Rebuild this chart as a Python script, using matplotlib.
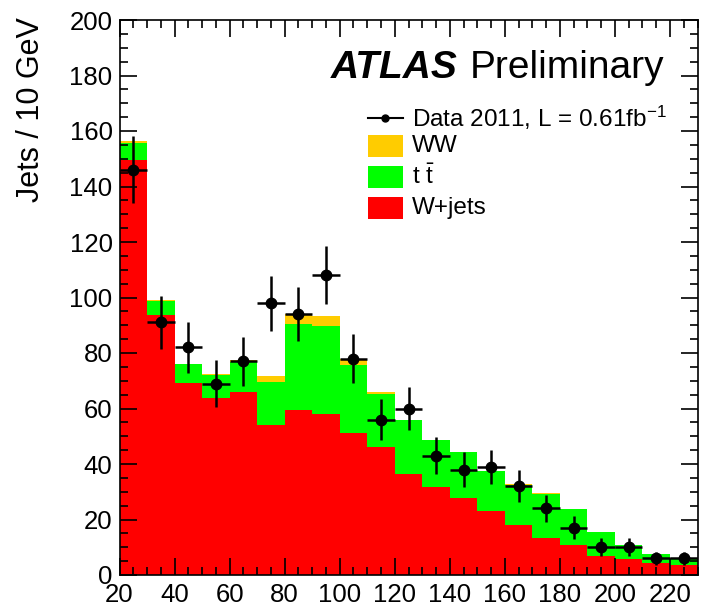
import numpy as np
import matplotlib
matplotlib.use("Agg")
import matplotlib.pyplot as plt
from matplotlib.patches import Rectangle
from matplotlib.lines import Line2D
from matplotlib.ticker import MultipleLocator

plt.rcParams['font.family'] = ['Liberation Sans', 'DejaVu Sans']
plt.rcParams['mathtext.fontset'] = 'custom'
plt.rcParams['mathtext.rm'] = 'Liberation Sans'
plt.rcParams['mathtext.it'] = 'Liberation Sans:italic'

# jet pT bins, 10 GeV wide
edges = np.arange(20, 240, 10)
centers = edges[:-1] + 5

wjets = [149.6, 93.8, 69.2, 63.7, 65.8, 54.0, 59.4, 57.9, 51.2, 46.1, 36.5,
         31.7, 27.7, 23.1, 17.9, 13.2, 10.7, 6.8, 5.9, 4.3, 3.5]
ttbar = [6.0, 4.8, 6.7, 8.2, 10.8, 15.6, 30.9, 31.7, 24.4, 19.3, 19.2,
         16.8, 16.6, 14.3, 14.7, 16.1, 13.0, 8.7, 4.8, 3.2, 2.4]
ww = [0.9, 0.4, 0.3, 0.4, 0.8, 2.0, 3.9, 3.7, 2.2, 0.7, 0.3,
      0.2, 0.2, 0.1, 0.1, 0.1, 0.1, 0.1, 0.0, 0.0, 0.0]

data = [146, 91, 82, 69, 77, 98, 94, 108, 78, 56, 60,
        43, 38, 39, 32, 24, 17, 10, 10, 6, 6]
data_err = [12.1, 9.5, 9.1, 8.3, 8.8, 9.9, 9.7, 10.4, 8.8, 7.5, 7.7,
            6.6, 6.2, 6.2, 5.7, 4.9, 4.1, 3.2, 3.2, 2.4, 2.4]

c_wjets = '#ff0000'
c_ttbar = '#00ff00'
c_ww = '#ffcc00'

W, H = 706, 607
fig = plt.figure(figsize=(W / 100, H / 100), dpi=100)
ax = fig.add_axes([119.5 / W, 1 - 575 / H, 578 / W, 555 / H])

s1 = np.array(wjets)
s2 = s1 + np.array(ttbar)
s3 = s2 + np.array(ww)
ax.stairs(s1, edges, baseline=0, fill=True, color=c_wjets, lw=0)
ax.stairs(s2, edges, baseline=s1, fill=True, color=c_ttbar, lw=0)
ax.stairs(s3, edges, baseline=s2, fill=True, color=c_ww, lw=0)

ax.errorbar(centers, data, xerr=5, yerr=data_err, fmt='o', color='black',
            ms=7.5, elinewidth=1.8, capsize=0, zorder=5)

ax.set_xlim(20, 230)
ax.set_ylim(0, 200)
ax.xaxis.set_major_locator(MultipleLocator(20))
ax.xaxis.set_minor_locator(MultipleLocator(5))
ax.yaxis.set_major_locator(MultipleLocator(20))
ax.yaxis.set_minor_locator(MultipleLocator(5))
ax.tick_params(which='both', direction='in', top=True, right=True,
               width=1.2, labelsize=18.5)
ax.tick_params(which='major', length=12)
ax.tick_params(which='minor', length=6)
ax.tick_params(axis='x', pad=6)
ax.tick_params(axis='y', pad=5)
for sp in ax.spines.values():
    sp.set_linewidth(1.2)

ax.set_ylabel('Jets / 10 GeV', fontsize=22, loc='top')
ax.yaxis.set_label_coords(-0.128, 1.005)


def fx(x):
    return x / W


def fy(y):
    return 1 - y / H


fig.text(fx(331), fy(78), 'ATLAS', fontsize=28, fontweight='bold',
         fontstyle='italic', va='baseline')
fig.text(fx(470), fy(78), 'Preliminary', fontsize=28, va='baseline')

# legend
fig.add_artist(Line2D([fx(368), fx(403)], [fy(118), fy(118)], color='black', lw=1.5))
fig.add_artist(Line2D([fx(385.5)], [fy(118)], marker='o', color='black', ms=5))
fig.text(fx(412), fy(118), r'Data 2011, L = 0.61fb$^{\mathrm{-1}}$',
         fontsize=17.5, va='center')
rows = [(146, c_ww, 'WW'),
        (177, c_ttbar, r'$\mathrm{t\ \bar{t}}$'),
        (208, c_wjets, 'W+jets')]
for yc, col, lab in rows:
    fig.add_artist(Rectangle((fx(368), fy(yc + 11)), fx(35), 22 / H,
                             facecolor=col, edgecolor='none'))
    fig.text(fx(412), fy(yc), lab, fontsize=17.5, va='center')

fig.savefig('out.png', dpi=100)
